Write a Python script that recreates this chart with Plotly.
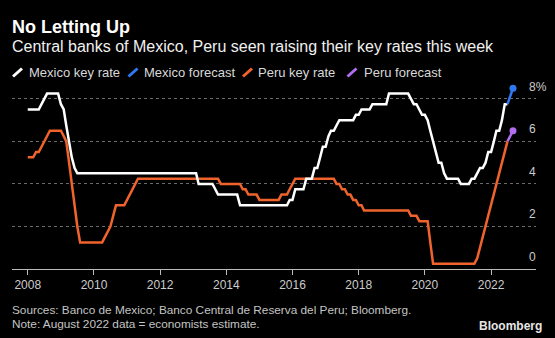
import plotly.graph_objects as go
import pandas as pd

# ---------------- data ----------------
months = pd.date_range("2008-01-01", "2022-07-01", freq="MS")

mexico_rate = (
    [7.5, 7.5, 7.5, 7.5, 7.5, 7.75, 8.0, 8.25, 8.25, 8.25, 8.25, 8.25] +          # 2008
    [7.75, 7.5, 6.75, 6.0, 5.25, 4.75, 4.5, 4.5, 4.5, 4.5, 4.5, 4.5] +            # 2009
    [4.5, 4.5, 4.5, 4.5, 4.5, 4.5, 4.5, 4.5, 4.5, 4.5, 4.5, 4.5] +                # 2010
    [4.5, 4.5, 4.5, 4.5, 4.5, 4.5, 4.5, 4.5, 4.5, 4.5, 4.5, 4.5] +                # 2011
    [4.5, 4.5, 4.5, 4.5, 4.5, 4.5, 4.5, 4.5, 4.5, 4.5, 4.5, 4.5] +                # 2012
    [4.5, 4.5, 4.0, 4.0, 4.0, 4.0, 4.0, 4.0, 3.75, 3.5, 3.5, 3.5] +               # 2013
    [3.5, 3.5, 3.5, 3.5, 3.5, 3.0, 3.0, 3.0, 3.0, 3.0, 3.0, 3.0] +                # 2014
    [3.0, 3.0, 3.0, 3.0, 3.0, 3.0, 3.0, 3.0, 3.0, 3.0, 3.0, 3.25] +               # 2015
    [3.25, 3.75, 3.75, 3.75, 3.75, 4.25, 4.25, 4.25, 4.75, 4.75, 5.25, 5.75] +    # 2016
    [5.75, 6.25, 6.5, 6.5, 6.75, 7.0, 7.0, 7.0, 7.0, 7.0, 7.0, 7.25] +            # 2017
    [7.25, 7.5, 7.5, 7.5, 7.5, 7.75, 7.75, 7.75, 7.75, 7.75, 7.75, 8.25] +        # 2018
    [8.25, 8.25, 8.25, 8.25, 8.25, 8.25, 8.25, 8.0, 7.75, 7.75, 7.5, 7.25] +      # 2019
    [7.25, 7.0, 6.5, 6.0, 5.5, 5.0, 5.0, 4.5, 4.25, 4.25, 4.25, 4.25] +           # 2020
    [4.25, 4.0, 4.0, 4.0, 4.0, 4.25, 4.25, 4.5, 4.75, 4.75, 5.0, 5.5] +           # 2021
    [5.5, 6.0, 6.5, 6.5, 7.0, 7.75, 7.75]                                         # 2022
)

peru_rate = (
    [5.25, 5.25, 5.25, 5.5, 5.5, 5.75, 6.0, 6.25, 6.5, 6.5, 6.5, 6.5] +           # 2008
    [6.5, 6.25, 6.0, 5.0, 4.0, 3.0, 2.0, 1.25, 1.25, 1.25, 1.25, 1.25] +          # 2009
    [1.25, 1.25, 1.25, 1.25, 1.5, 1.75, 2.0, 2.5, 3.0, 3.0, 3.0, 3.0] +           # 2010
    [3.25, 3.5, 3.75, 4.0, 4.25, 4.25, 4.25, 4.25, 4.25, 4.25, 4.25, 4.25] +      # 2011
    [4.25, 4.25, 4.25, 4.25, 4.25, 4.25, 4.25, 4.25, 4.25, 4.25, 4.25, 4.25] +    # 2012
    [4.25, 4.25, 4.25, 4.25, 4.25, 4.25, 4.25, 4.25, 4.25, 4.25, 4.0, 4.0] +      # 2013
    [4.0, 4.0, 4.0, 4.0, 4.0, 4.0, 3.75, 3.75, 3.5, 3.5, 3.5, 3.5] +              # 2014
    [3.25, 3.25, 3.25, 3.25, 3.25, 3.25, 3.25, 3.25, 3.5, 3.5, 3.5, 3.75] +       # 2015
    [4.0, 4.25, 4.25, 4.25, 4.25, 4.25, 4.25, 4.25, 4.25, 4.25, 4.25, 4.25] +     # 2016
    [4.25, 4.25, 4.25, 4.25, 4.0, 4.0, 3.75, 3.75, 3.5, 3.5, 3.25, 3.25] +        # 2017
    [3.0, 3.0, 2.75, 2.75, 2.75, 2.75, 2.75, 2.75, 2.75, 2.75, 2.75, 2.75] +      # 2018
    [2.75, 2.75, 2.75, 2.75, 2.75, 2.75, 2.75, 2.5, 2.5, 2.5, 2.25, 2.25] +       # 2019
    [2.25, 2.25, 1.25, 0.25, 0.25, 0.25, 0.25, 0.25, 0.25, 0.25, 0.25, 0.25] +    # 2020
    [0.25, 0.25, 0.25, 0.25, 0.25, 0.25, 0.25, 0.5, 1.0, 1.5, 2.0, 2.5] +         # 2021
    [3.0, 3.5, 4.0, 4.5, 5.0, 5.5, 6.0]                                           # 2022
)

forecast_dates = ["2022-07-01", "2022-08-31"]
mexico_forecast = [7.75, 8.5]
peru_forecast = [6.0, 6.5]

year_ticks = [2008, 2010, 2012, 2014, 2016, 2018, 2020, 2022]
y_tick_vals = [0, 2, 4, 6, 8]
y_tick_text = ["0", "2", "4", "6", "8%"]

series_names = ["Mexico key rate", "Mexico forecast", "Peru key rate", "Peru forecast"]
series_colors = ["#ffffff", "#2f78f2", "#f0632c", "#b06df0"]

# ---------------- layout geometry ----------------
W, H = 555, 338
L, R, T, B = 12, 19, 84, 69
PW, PH = W - L - R, H - T - B
FONT = "Liberation Sans"


def px(x):
    return (x - L) / PW


def py(y):
    return (H - B - y) / PH


fig = go.Figure()

# Peru actual
fig.add_trace(go.Scatter(x=months, y=peru_rate, mode="lines",
                         line=dict(color=series_colors[2], width=2.5),
                         name=series_names[2], showlegend=False, hoverinfo="skip"))
# Peru forecast
fig.add_trace(go.Scatter(x=forecast_dates, y=peru_forecast, mode="lines",
                         line=dict(color=series_colors[3], width=2.5),
                         name=series_names[3], showlegend=False, hoverinfo="skip"))
fig.add_trace(go.Scatter(x=forecast_dates[-1:], y=peru_forecast[-1:], mode="markers",
                         marker=dict(color=series_colors[3], size=7),
                         showlegend=False, hoverinfo="skip"))
# Mexico actual
fig.add_trace(go.Scatter(x=months, y=mexico_rate, mode="lines",
                         line=dict(color=series_colors[0], width=2.5),
                         name=series_names[0], showlegend=False, hoverinfo="skip"))
# Mexico forecast
fig.add_trace(go.Scatter(x=forecast_dates, y=mexico_forecast, mode="lines",
                         line=dict(color=series_colors[1], width=2.5),
                         name=series_names[1], showlegend=False, hoverinfo="skip"))
fig.add_trace(go.Scatter(x=forecast_dates[-1:], y=mexico_forecast[-1:], mode="markers",
                         marker=dict(color=series_colors[1], size=7),
                         showlegend=False, hoverinfo="skip"))

annotations = []
shapes = []

# y tick labels (sit above their gridlines, at right)
for v, t in zip(y_tick_vals, y_tick_text):
    annotations.append(dict(x=px(527), xref="paper", y=v, yref="y", text=t,
                            xanchor="left", yanchor="middle", yshift=12.3,
                            showarrow=False, font=dict(family=FONT, size=12, color="#cccccc")))

# title / subtitle
annotations.append(dict(x=px(10), xref="paper", y=py(26.5), yref="paper",
                        text="<b>No Letting Up</b>", xanchor="left", yanchor="middle",
                        showarrow=False, font=dict(family=FONT, size=18, color="#ffffff")))
annotations.append(dict(x=px(10), xref="paper", y=py(46), yref="paper",
                        text="Central banks of Mexico, Peru seen raising their key rates this week",
                        xanchor="left", yanchor="middle", showarrow=False,
                        font=dict(family=FONT, size=16, color="#f0f0f0")))

# custom legend: slanted colour strokes + labels
legend_icon_x = [13, 128.5, 243, 347.5]
legend_text_x = [27, 142, 256, 361.5]
for name, col, ix, tx in zip(series_names, series_colors, legend_icon_x, legend_text_x):
    shapes.append(dict(type="line", xref="paper", yref="paper",
                       x0=px(ix), y0=py(76.5), x1=px(ix + 9), y1=py(68.5),
                       line=dict(color=col, width=3)))
    annotations.append(dict(x=px(tx), xref="paper", y=py(72.5), yref="paper", text=name,
                            xanchor="left", yanchor="middle", showarrow=False,
                            font=dict(family=FONT, size=13, color="#d9d9d9")))

# footer
annotations.append(dict(x=px(10), xref="paper", y=py(310), yref="paper",
                        text="Sources: Banco de Mexico; Banco Central de Reserva del Peru; Bloomberg.",
                        xanchor="left", yanchor="middle", showarrow=False,
                        font=dict(family=FONT, size=11.8, color="#c4c4c4")))
annotations.append(dict(x=px(10), xref="paper", y=py(323.5), yref="paper",
                        text="Note: August 2022 data = economists estimate.",
                        xanchor="left", yanchor="middle", showarrow=False,
                        font=dict(family=FONT, size=11.8, color="#c4c4c4")))
annotations.append(dict(x=px(544), xref="paper", y=py(326), yref="paper",
                        text="<b>Bloomberg</b>", xanchor="right", yanchor="middle",
                        showarrow=False, font=dict(family=FONT, size=12, color="#e6e6e6")))

fig.update_layout(
    width=W, height=H,
    margin=dict(l=L, r=R, t=T, b=B, pad=0),
    paper_bgcolor="#000000", plot_bgcolor="#000000",
    showlegend=False,
    font=dict(family=FONT, color="#cccccc"),
    annotations=annotations,
    shapes=shapes,
    xaxis=dict(
        type="date",
        range=["2007-07-11", "2023-05-12"],
        tickvals=[f"{y}-01-01" for y in year_ticks],
        ticktext=[str(y) for y in year_ticks],
        ticks="outside", ticklen=5, tickcolor="#bbbbbb", tickwidth=1,
        showline=True, linecolor="#bbbbbb", linewidth=1,
        showgrid=False, zeroline=False,
        tickfont=dict(family=FONT, size=12, color="#cccccc"),
        fixedrange=True,
    ),
    yaxis=dict(
        range=[0, 8.7],
        tickvals=y_tick_vals[1:],
        showticklabels=False,
        showgrid=True, gridcolor="#6a6a6a", gridwidth=1, griddash="dot",
        zeroline=False, showline=False, ticks="",
        fixedrange=True,
    ),
)

fig.write_html("out.html")
